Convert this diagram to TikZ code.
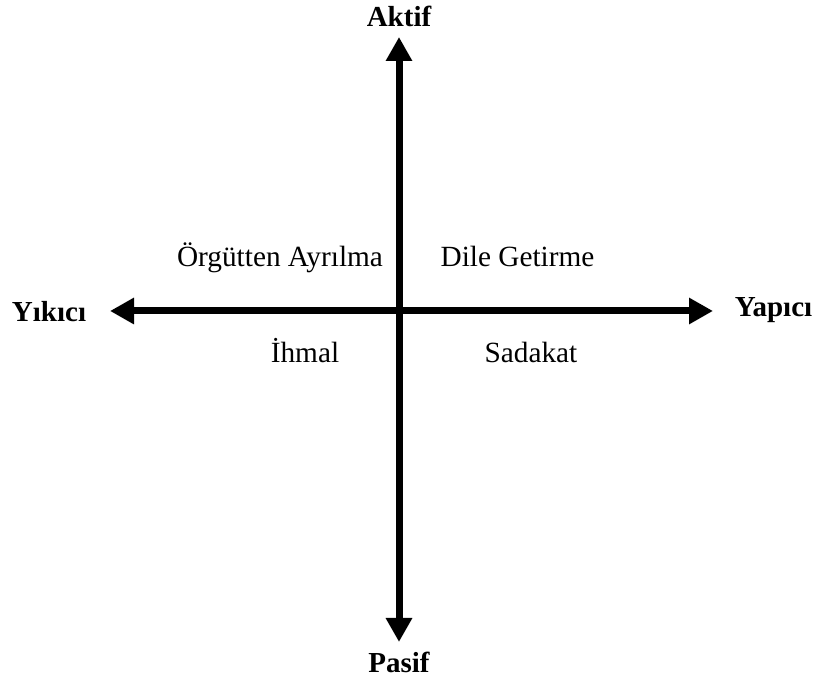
\documentclass[tikz,border=0pt]{standalone}
\usepackage{fontspec}
\setmainfont{Liberation Serif}
\usetikzlibrary{arrows.meta}
\begin{document}
\begin{tikzpicture}[x=1pt,y=1pt,
  axis/.style={line width=7pt,{Triangle[length=24pt,width=25pt]}-{Triangle[length=24pt,width=25pt]}},
  pole/.style={font=\fontsize{29}{33}\selectfont\bfseries,anchor=base,inner sep=0pt},
  quad/.style={font=\fontsize{29.3}{33}\selectfont,anchor=base,inner sep=0pt}]
\useasboundingbox (0,0) rectangle (817,684);
% axis end points
\coordinate (top) at (399,647);
\coordinate (bottom) at (399,42);
\coordinate (left) at (110,373);
\coordinate (right) at (713,373);
\draw[axis] (bottom) -- (top);
\draw[axis] (left) -- (right);
% axis poles
\node[pole] (aktif) at (399,657) {Aktif};
\node[pole] (pasif) at (399,11) {Pasif};
\node[pole] (yikici) at (49,362) {Yıkıcı};
\node[pole] (yapici) at (773.5,367) {Yapıcı};
% quadrant labels
\node[quad] (ayrilma) at (280,417) {Örgütten Ayrılma};
\node[quad] (dile) at (517.5,417) {Dile Getirme};
\node[quad] (ihmal) at (305,321) {İhmal};
\node[quad] (sadakat) at (531,321) {Sadakat};
\end{tikzpicture}
\end{document}
